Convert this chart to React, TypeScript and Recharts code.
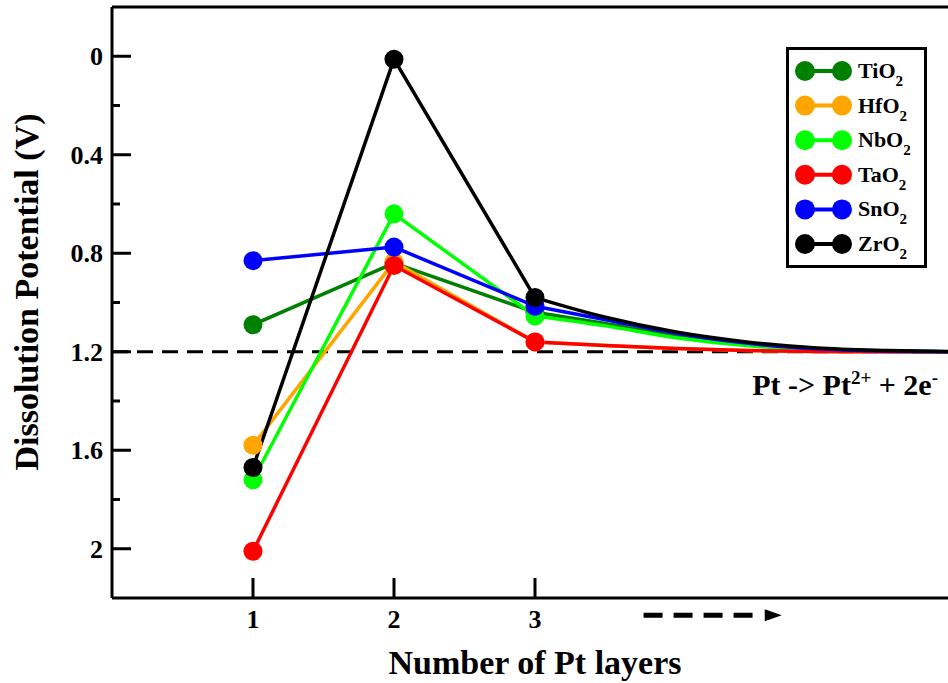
import { LineChart, Line, XAxis, YAxis, ReferenceLine } from "recharts";

const FONT = '"Liberation Serif", "Times New Roman", serif';

// Pt layers 1..3 (with markers)
const layers = [1, 2, 3];
const tiO2 = [1.09, 0.84, 1.04];
const hfO2 = [1.58, 0.835, 1.16];
const nbO2 = [1.72, 0.64, 1.055];
const taO2 = [2.01, 0.85, 1.16];
const snO2 = [0.83, 0.775, 1.015];
const zrO2 = [1.67, 0.012, 0.98];

// smooth approach to the bulk value beyond 3 layers (no markers)
const tailLayers = [3, 3.5, 4, 4.5, 5, 5.5, 6];
const tiO2Tail = [1.04, 1.085, 1.135, 1.17, 1.19, 1.198, 1.2];
const hfO2Tail = [1.16, 1.175, 1.187, 1.195, 1.199, 1.2, 1.2];
const nbO2Tail = [1.055, 1.095, 1.143, 1.175, 1.192, 1.198, 1.2];
const taO2Tail = [1.16, 1.175, 1.187, 1.195, 1.199, 1.2, 1.2];
const snO2Tail = [1.015, 1.07, 1.125, 1.165, 1.188, 1.197, 1.2];
const zrO2Tail = [0.98, 1.06, 1.12, 1.16, 1.185, 1.195, 1.2];

const seriesNames = ["TiO2", "HfO2", "NbO2", "TaO2", "SnO2", "ZrO2"];
const seriesColors = ["#008000", "#FFA500", "#00FF00", "#FF0000", "#0000FF", "#000000"];
const mainValues = [tiO2, hfO2, nbO2, taO2, snO2, zrO2];
const tailValues = [tiO2Tail, hfO2Tail, nbO2Tail, taO2Tail, snO2Tail, zrO2Tail];

const yTicks = [0, 0.2, 0.4, 0.6, 0.8, 1.0, 1.2, 1.4, 1.6, 1.8, 2.0];
const xTicks = [1, 2, 3];
const bulkPotential = 1.2;

const mainRows = layers.map((x, i) => {
  const row: any = { x };
  seriesNames.forEach((n, s) => (row[n] = mainValues[s][i]));
  return row;
});
const tailRows = tailLayers.map((x, i) => {
  const row: any = { x };
  seriesNames.forEach((n, s) => (row[n] = tailValues[s][i]));
  return row;
});

const YTick = (props: any) => {
  const { x, y, payload } = props;
  const major = Math.round(payload.value * 10) % 4 === 0;
  const label = payload.value === 0 ? "0" : payload.value === 2 ? "2" : payload.value.toFixed(1);
  return (
    <g>
      <line x1={x} x2={x + (major ? 19 : 8)} y1={y} y2={y} stroke="#000" strokeWidth={3} />
      {major && (
        <text x={x - 9} y={y} dy="0.35em" textAnchor="end" fontFamily={FONT} fontWeight="bold" fontSize={26} fill="#000">
          {label}
        </text>
      )}
    </g>
  );
};

const XTick = (props: any) => {
  const { x, y, payload } = props;
  return (
    <g>
      <line x1={x} x2={x} y1={y} y2={y - 20} stroke="#000" strokeWidth={3} />
      <text x={x} y={y + 30} textAnchor="middle" fontFamily={FONT} fontWeight="bold" fontSize={26} fill="#000">
        {payload.value}
      </text>
    </g>
  );
};

const LegendBox = () => (
  <svg width={142} height={222} style={{ position: "absolute", left: 786, top: 47 }}>
    <rect x={1.5} y={1.5} width={138} height={218} fill="#fff" stroke="#000" strokeWidth={3} />
    {seriesNames.map((n, i) => {
      const cy = 24 + i * 34.6;
      return (
        <g key={n}>
          <line x1={19} x2={56} y1={cy} y2={cy} stroke={seriesColors[i]} strokeWidth={4} />
          <circle cx={19} cy={cy} r={10} fill={seriesColors[i]} />
          <circle cx={56} cy={cy} r={10} fill={seriesColors[i]} />
          <text x={72} y={cy + 7} fontFamily={FONT} fontWeight="bold" fontSize={22} fill="#000">
            {n.slice(0, -1)}
            <tspan dy={8} fontSize={15}>2</tspan>
          </text>
        </g>
      );
    })}
  </svg>
);

const ArrowShape = (props: any) => {
  const { x1, y1, x2, y2 } = props;
  return (
    <g>
      <line x1={x1} y1={y1} x2={x2 - 20} y2={y2} stroke="#000" strokeWidth={5} strokeDasharray="19 11" />
      <polygon points={`${x2 - 17},${y2 - 6} ${x2},${y2} ${x2 - 17},${y2 + 6}`} fill="#000" />
    </g>
  );
};

export default function App() {
  return (
    <div style={{ position: "absolute", left: 0, top: 0, width: 948, height: 683, overflow: "hidden", background: "#fff" }}>
      <LineChart width={960} height={683} margin={{ top: 7, right: 2, bottom: 0, left: 0 }}>
        <XAxis
          type="number"
          dataKey="x"
          domain={[0, 6]}
          ticks={xTicks}
          allowDataOverflow
          height={85}
          axisLine={{ stroke: "#000", strokeWidth: 3 }}
          tickLine={false}
          tickSize={0}
          tickMargin={0}
          tick={<XTick />}
          label={{
            content: () => (
              <text x={535} y={674} textAnchor="middle" fontFamily={FONT} fontWeight="bold" fontSize={34} fill="#000">
                Number of Pt layers
              </text>
            ),
          }}
        />
        <YAxis
          type="number"
          domain={[-0.2, 2.2]}
          reversed
          ticks={yTicks}
          allowDataOverflow
          width={112}
          axisLine={{ stroke: "#000", strokeWidth: 3 }}
          tickLine={false}
          tickSize={0}
          tickMargin={0}
          tick={<YTick />}
          label={{
            content: () => (
              <text
                x={38}
                y={292}
                textAnchor="middle"
                transform="rotate(-90 38 292)"
                fontFamily={FONT}
                fontWeight="bold"
                fontSize={34}
                fill="#000"
              >
                Dissolution Potential (V)
              </text>
            ),
          }}
        />
        <ReferenceLine y={-0.2} stroke="#000" strokeWidth={3} />
        <ReferenceLine
          y={bulkPotential}
          stroke="#000"
          strokeWidth={3}
          strokeDasharray="16 9"
          label={{
            content: () => (
              <text x={938} y={395} textAnchor="end" fontFamily={FONT} fontWeight="bold" fontSize={30} fill="#000">
                Pt -&gt; Pt
                <tspan dy={-11} fontSize={19}>2+</tspan>
                <tspan dy={11} fontSize={30}> + 2e</tspan>
                <tspan dy={-11} fontSize={19}>-</tspan>
              </text>
            ),
          }}
        />
        <ReferenceLine
          segment={[{ x: 3.77, y: 2.27 }, { x: 4.75, y: 2.27 }]}
          ifOverflow="visible"
          shape={<ArrowShape />}
        />
        {seriesNames.map((n, i) => [
          <Line
            key={n}
            data={mainRows}
            dataKey={n}
            type="linear"
            stroke={seriesColors[i]}
            strokeWidth={3.5}
            dot={{ r: 9.5, fill: seriesColors[i], stroke: "none" }}
            activeDot={false}
            isAnimationActive={false}
          />,
          <Line
            key={n + "-tail"}
            data={tailRows}
            dataKey={n}
            type="monotone"
            stroke={seriesColors[i]}
            strokeWidth={3.5}
            dot={false}
            activeDot={false}
            isAnimationActive={false}
          />,
        ])}
      </LineChart>
      <LegendBox />
    </div>
  );
}
